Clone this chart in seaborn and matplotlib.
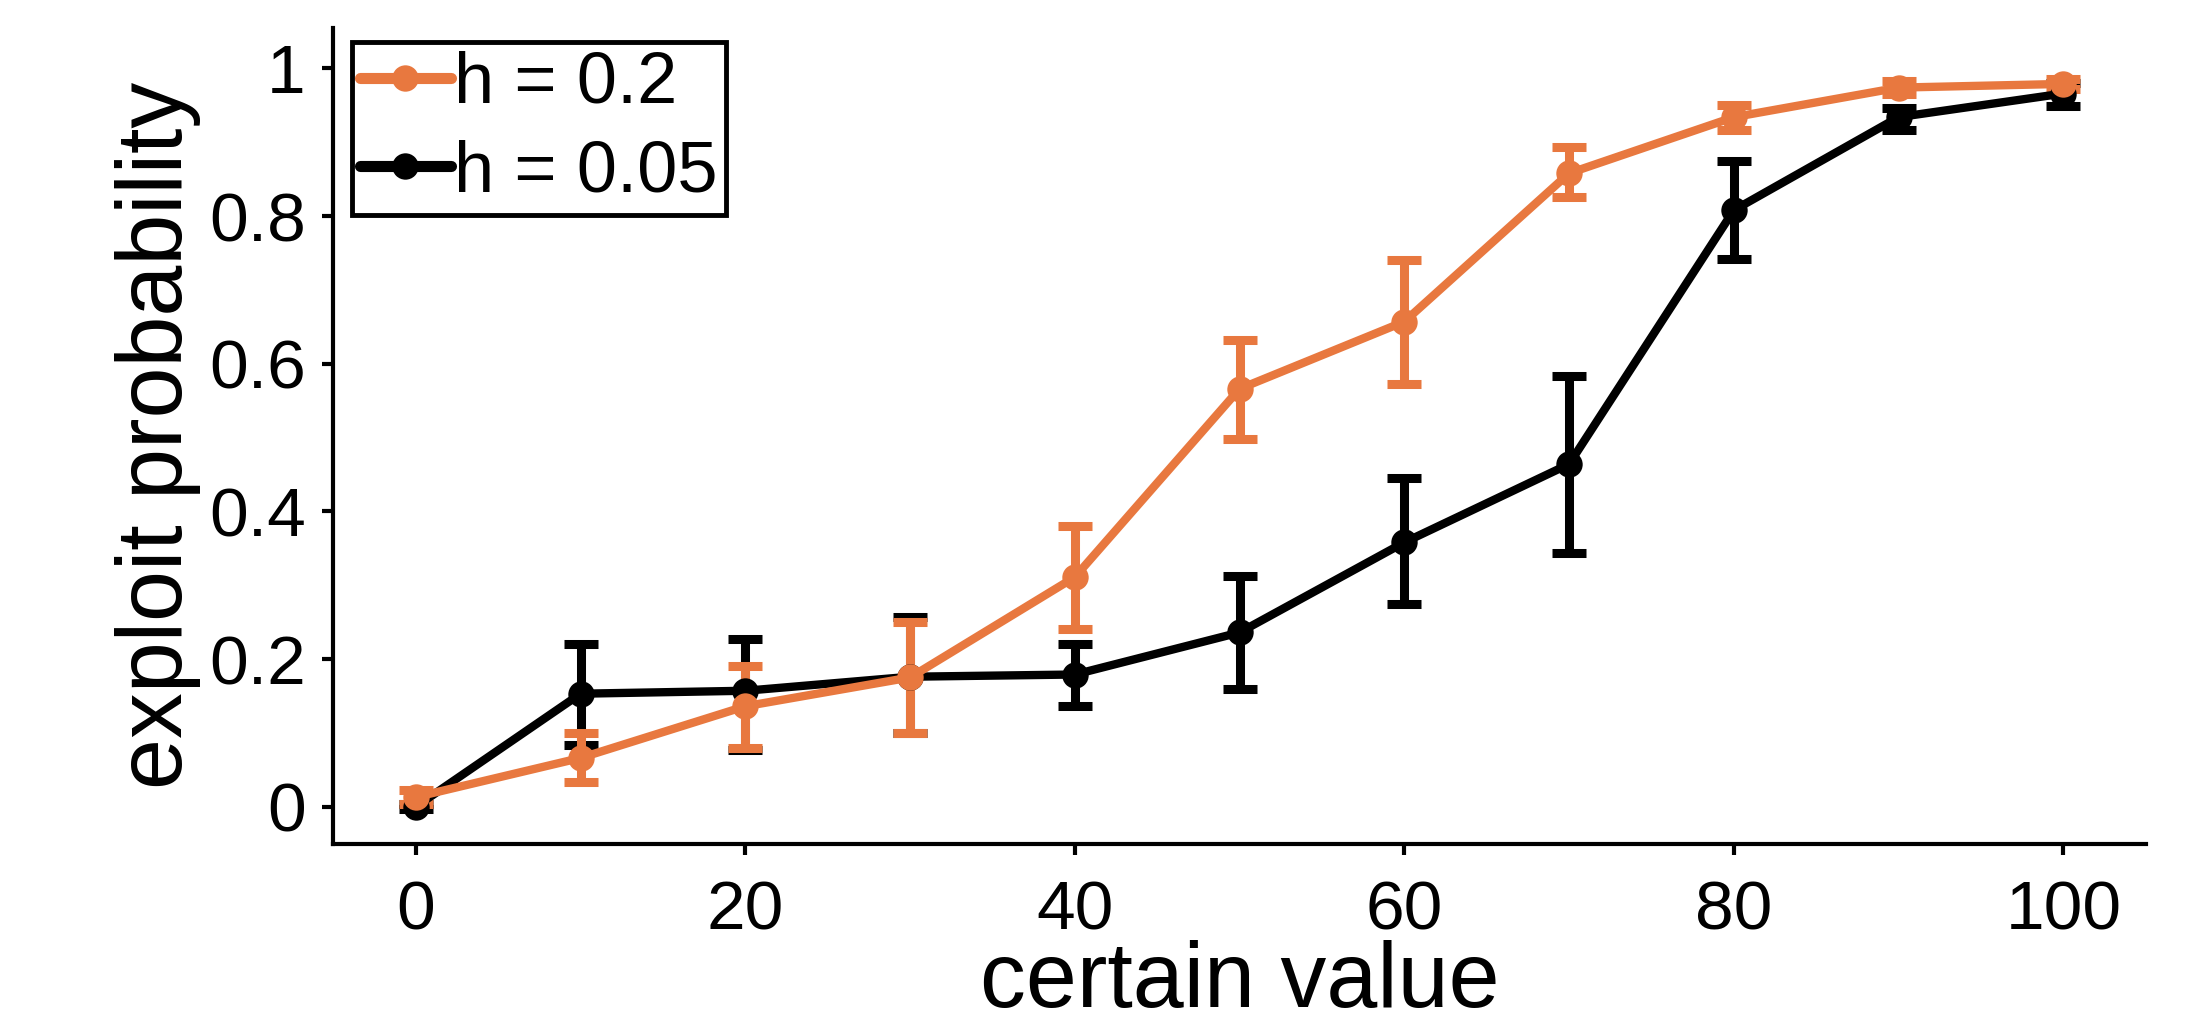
import numpy as np
import pandas as pd
import matplotlib
matplotlib.use("Agg")
import matplotlib.pyplot as plt
import seaborn as sns
from matplotlib.lines import Line2D

# data
certain_value = [0, 10, 20, 30, 40, 50, 60, 70, 80, 90, 100]

h02_mean = [0.013, 0.066, 0.136, 0.175, 0.311, 0.566, 0.657, 0.858, 0.934, 0.974, 0.979]
h02_lo = [0.003, 0.034, 0.080, 0.100, 0.240, 0.498, 0.572, 0.826, 0.917, 0.965, 0.972]
h02_hi = [0.023, 0.100, 0.190, 0.250, 0.380, 0.632, 0.740, 0.894, 0.950, 0.983, 0.986]

h005_mean = [0.000, 0.153, 0.157, 0.176, 0.179, 0.236, 0.358, 0.464, 0.808, 0.934, 0.966]
h005_lo = [-0.003, 0.083, 0.077, 0.100, 0.136, 0.160, 0.274, 0.343, 0.742, 0.917, 0.949]
h005_hi = [0.003, 0.220, 0.227, 0.257, 0.220, 0.313, 0.445, 0.583, 0.874, 0.947, 0.980]

labels = ["h = 0.2", "h = 0.05"]
colors = {"h = 0.2": "#E8783F", "h = 0.05": "#000000"}

df = pd.concat([
    pd.DataFrame({"certain value": certain_value, "p": h02_mean, "lo": h02_lo, "hi": h02_hi, "h": labels[0]}),
    pd.DataFrame({"certain value": certain_value, "p": h005_mean, "lo": h005_lo, "hi": h005_hi, "h": labels[1]}),
])

sns.set_style("ticks")
plt.rcParams["font.family"] = ["Liberation Sans", "DejaVu Sans"]
plt.rcParams["text.color"] = "black"
plt.rcParams["axes.labelcolor"] = "black"
plt.rcParams["xtick.color"] = "black"
plt.rcParams["ytick.color"] = "black"
plt.rcParams["axes.edgecolor"] = "black"

fig = plt.figure(figsize=(21.94, 10.30), dpi=100)
ax = fig.add_axes([0.152, 0.181, 0.826, 0.792])

# black first, orange on top
for lab, z in [(labels[1], 2), (labels[0], 3)]:
    sub = df[df["h"] == lab]
    ax.errorbar(sub["certain value"], sub["p"],
                yerr=[sub["p"] - sub["lo"], sub["hi"] - sub["p"]],
                fmt="none", ecolor=colors[lab], elinewidth=6.5,
                capsize=12, capthick=6.5, zorder=z)

sns.lineplot(data=df, x="certain value", y="p", hue="h", hue_order=labels[::-1],
             palette=colors, marker="o", markersize=19, markeredgewidth=0,
             linewidth=6, ax=ax, legend=False, zorder=4)

# legend handles
handles = [Line2D([], [], color=colors[l], lw=8, marker="o", markersize=19,
                  markeredgewidth=0) for l in labels]
leg = ax.legend(handles, labels, loc="upper left", fontsize=52, frameon=True,
                fancybox=False, edgecolor="black", handlelength=1.25,
                handletextpad=0.05, borderpad=0.12, labelspacing=0.3,
                borderaxespad=0.2, bbox_to_anchor=(0.002, 1.0))
leg.get_frame().set_linewidth(3.5)
leg.get_frame().set_alpha(1)

ax.set_xlim(-5, 105)
ax.set_ylim(-0.05, 1.055)
ax.set_xticks([0, 20, 40, 60, 80, 100])
ax.set_yticks([0, 0.2, 0.4, 0.6, 0.8, 1])
ax.set_yticklabels(["0", "0.2", "0.4", "0.6", "0.8", "1"])
ax.tick_params(labelsize=50, width=3, length=8, direction="out")
ax.tick_params(axis="x", pad=18)
ax.tick_params(axis="y", pad=12)
ax.set_xlabel("certain value", fontsize=66, labelpad=-3)
ax.set_ylabel("exploit probability", fontsize=66, labelpad=6)
for s in ["left", "bottom"]:
    ax.spines[s].set_linewidth(3)
sns.despine(ax=ax)

fig.savefig("out.png", dpi=100)
